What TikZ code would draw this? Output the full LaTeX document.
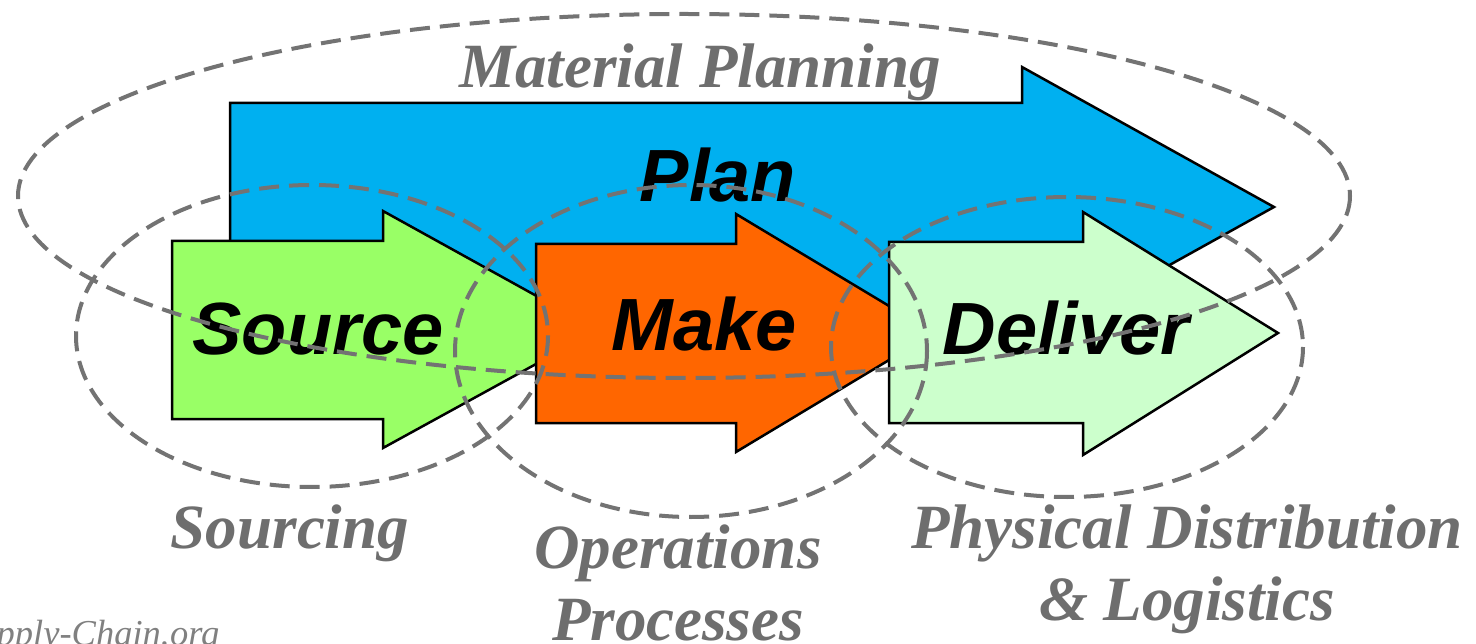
\documentclass[tikz,border=0pt]{standalone}
\usepackage{fontspec}
\setmainfont{Liberation Serif}
\newfontfamily\arialfont{Liberation Sans}
\definecolor{planblue}{HTML}{00B0F0}
\definecolor{sourcegreen}{HTML}{99FF66}
\definecolor{makeorange}{HTML}{FF6600}
\definecolor{delivergreen}{HTML}{CCFFCC}
\definecolor{zonegray}{HTML}{737373}
\definecolor{labelgray}{HTML}{6E6E6E}

\begin{document}
\begin{tikzpicture}[x=1pt,y=-1pt,line join=miter,
    arrowbox/.style={draw=black,line width=2.5pt},
    zone/.style={draw=zonegray,line width=4pt,dash pattern=on 20pt off 10pt},
    proc/.style={font=\arialfont\bfseries\itshape\fontsize{74}{80}\selectfont,inner sep=0pt,anchor=base},
    area/.style={font=\bfseries\itshape\fontsize{63}{72}\selectfont,text=labelgray,inner sep=0pt,anchor=base,align=center}]
    \useasboundingbox(0,0)rectangle(1476,644);
    % the four process arrows
    \draw[arrowbox,fill=planblue](230,103)--(1022,103)--(1022,67)--(1274,207)--(1022,347)--(1022,311)--(230,311)--cycle;
    \draw[arrowbox,fill=sourcegreen](172,241)--(383,241)--(383,211)--(598,330)--(383,448)--(383,419)--(172,419)--cycle;
    \draw[arrowbox,fill=makeorange](536,244)--(736,244)--(736,214)--(934,333)--(736,452)--(736,423)--(536,423)--cycle;
    \draw[arrowbox,fill=delivergreen](889,242)--(1083,242)--(1083,212)--(1278,333)--(1083,455)--(1083,423)--(889,423)--cycle;
    \node[proc](plan)at(718,202){Plan};
    \node[proc](source)at(318,355){Source};
    \node[proc](make)at(704,351){Make};
    \node[proc](deliver)at(1066,355){Deliver};
    % dashed areas
    \draw[zone](684,196)ellipse[x radius=666,y radius=182];
    \draw[zone](312,336)ellipse[x radius=236,y radius=151];
    \draw[zone](691,351)ellipse[x radius=236,y radius=166];
    \draw[zone](1067,347)ellipse[x radius=236,y radius=150];
    \node[area](planning)at(700,88){Material Planning};
    \node[area](sourcing)at(290,548){Sourcing};
    \node[area](operations)at(678,640){Operations\\Processes};
    \node[area](distribution)at(1187,620){Physical Distribution\\\& Logistics};
    \node[font=\itshape\fontsize{36.5}{40}\selectfont,text=gray,inner sep=0pt,anchor=base west](site)at(-40,645){Supply-Chain.org};
  \end{tikzpicture}
\end{document}
